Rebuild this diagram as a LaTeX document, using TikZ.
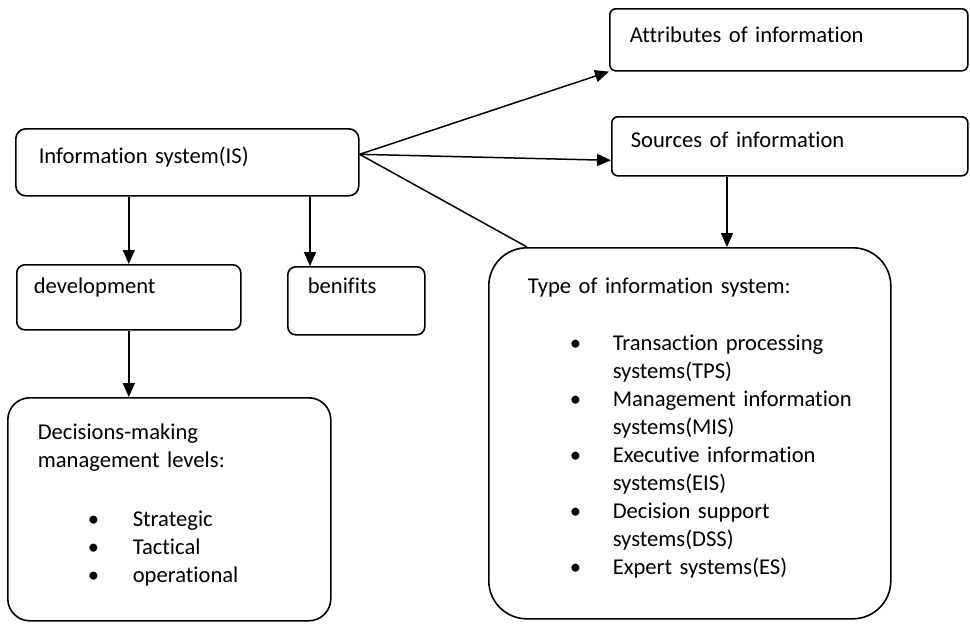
\documentclass[tikz,border=0pt]{standalone}
\usepackage{fontspec}
\setmainfont{Carlito}[Ligatures=CommonOff]
\usetikzlibrary{arrows.meta}

\begin{document}
\begin{tikzpicture}[
        x=1pt, y=-1pt,
        >={Triangle[length=14pt,width=12pt]},
        topic/.style={
            draw=black,
            line width=1.6pt,
            rounded corners=8pt,
            anchor=north west,
            align=left,
            inner ysep=0pt,
            font=\fontsize{22.6}{28}\selectfont
        },
        arrow/.style={->,line width=1.5pt}
    ]

    \useasboundingbox (0,0) rectangle (970,625);

    \node[topic, rounded corners=10pt, inner xsep=23pt, text width=297pt,
          text height=35pt, text depth=32pt] (is) at (15,128) {Information system(IS)};

    \node[topic, inner xsep=17pt, text width=190pt,
          text height=29pt, text depth=36pt] (dev) at (16,264) {development};

    \node[topic, inner xsep=20pt, text width=97pt,
          text height=27pt, text depth=41pt] (ben) at (287,266) {benifits};

    \node[topic, rounded corners=22pt, inner xsep=30pt, text width=263pt,
          text height=42pt, text depth=181pt] (dec) at (7,397) {
        Decisions-making\\
        management levels:\\[31pt]
        \hspace*{50pt}\makebox[45pt][l]{\textbullet}Strategic\\
        \hspace*{50pt}\makebox[45pt][l]{\textbullet}Tactical\\
        \hspace*{50pt}\makebox[45pt][l]{\textbullet}operational
    };

    \node[topic, rounded corners=6pt, inner xsep=20pt, text width=318pt,
          text height=34pt, text depth=28pt] (attr) at (609,8) {Attributes of information};

    \node[topic, rounded corners=6pt, inner xsep=19pt, text width=318pt,
          text height=31pt, text depth=28pt] (src) at (611,116) {Sources of information};

    \node[topic, rounded corners=38pt, inner xsep=39pt, text width=324pt,
          text height=46pt, text depth=325pt] (types) at (488,247) {
        Type of information system:\\[29pt]
        \hspace*{42pt}\makebox[43pt][l]{\textbullet}Transaction~processing\\
        \hspace*{85pt}systems(TPS)\\
        \hspace*{42pt}\makebox[43pt][l]{\textbullet}Management~information\\
        \hspace*{85pt}systems(MIS)\\
        \hspace*{42pt}\makebox[43pt][l]{\textbullet}Executive~information\\
        \hspace*{85pt}systems(EIS)\\
        \hspace*{42pt}\makebox[43pt][l]{\textbullet}Decision~support\\
        \hspace*{85pt}systems(DSS)\\
        \hspace*{42pt}\makebox[43pt][l]{\textbullet}Expert~systems(ES)
    };

    \coordinate (bentop) at ([xshift=23pt]ben.north west);
    \coordinate (drop) at ([xshift=239pt]types.north west);

    \draw[arrow] ([yshift=8pt]is.east) -- (attr.south west);
    \draw[arrow] ([yshift=8pt]is.east) -- ([yshift=-14pt]src.west);
    \draw[line width=1.5pt] ([yshift=8pt]is.east) -- ([xshift=39pt]types.north west);
    \draw[arrow] (drop |- src.south) -- (drop);
    \draw[arrow] (is.south -| dev.north) -- (dev.north);
    \draw[arrow] (is.south -| bentop) -- (bentop);
    \draw[arrow] (dev.south) -- (dev.south |- dec.north);

    \end{tikzpicture}
\end{document}
